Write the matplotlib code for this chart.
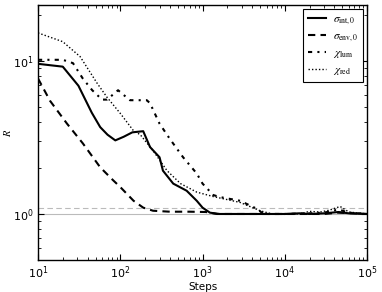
import matplotlib
matplotlib.use("Agg")
import matplotlib.pyplot as plt
import numpy as np

plt.rcParams['mathtext.fontset'] = 'stix'
plt.rcParams['font.family'] = ['DejaVu Sans']

# data (steps, R)
x_int = [10, 20, 31, 45, 57, 70, 87, 110, 140, 190, 230, 300, 330, 440, 640, 850, 1000, 1230, 1600, 3000, 6000, 10000, 15000, 20000, 30000, 45000, 60000, 100000]
y_int = [9.6, 9.2, 6.9, 4.6, 3.7, 3.3, 3.03, 3.2, 3.42, 3.48, 2.74, 2.35, 1.92, 1.58, 1.42, 1.22, 1.1, 1.02, 1.0, 1.0, 1.0, 1.0, 1.01, 1.0, 1.01, 1.03, 1.01, 1.0]

x_env = [10, 14, 22.5, 35, 57, 82, 100, 145, 190, 250, 400, 700, 1100, 1500, 3000, 10000, 30000, 45000, 100000]
y_env = [7.7, 5.5, 3.9, 2.9, 2.02, 1.66, 1.5, 1.22, 1.1, 1.05, 1.035, 1.035, 1.03, 1.0, 1.0, 1.0, 1.0, 1.02, 1.0]

x_lum = [10, 20, 26.6, 35, 45.6, 60, 69, 94, 131, 210, 230, 300, 400, 580, 850, 1000, 1350, 1630, 2860, 4600, 5500, 10000, 20000, 30000, 45000, 60000, 100000]
y_lum = [10.2, 10.2, 9.7, 7.7, 6.45, 5.6, 5.6, 6.45, 5.55, 5.55, 5.3, 3.9, 3.1, 2.35, 1.84, 1.58, 1.33, 1.29, 1.22, 1.08, 1.0, 1.0, 1.01, 1.02, 1.07, 1.02, 1.0]

x_red = [10, 20, 32.5, 52, 69, 100, 145, 175, 250, 370, 540, 850, 1350, 2860, 5000, 7000, 10000, 15000, 20000, 27000, 35000, 47000, 60000, 100000]
y_red = [15.3, 13.4, 10.7, 7.2, 5.8, 4.55, 3.5, 3.3, 2.6, 1.92, 1.58, 1.39, 1.3, 1.19, 1.05, 1.0, 1.0, 1.0, 1.04, 1.03, 1.06, 1.12, 1.03, 1.0]

labels = [r'$\sigma_{\rm int,0}$', r'$\sigma_{\rm env,0}$', r'$\chi_{\rm lum}$', r'$\chi_{\rm red}$']

fig = plt.figure(figsize=(3.82, 2.92), dpi=100)
ax = fig.add_axes([0.0995, 0.1096, 0.8615, 0.8734])

ax.axhline(1.0, color='#bbbbbb', lw=0.8, zorder=1)
ax.axhline(1.1, color='#bbbbbb', lw=0.8, ls=(0, (5, 3)), zorder=1)

ax.plot(x_int, y_int, color='black', lw=1.5, ls='-', label=labels[0])
ax.plot(x_env, y_env, color='black', lw=1.5, ls=(0, (3.5, 2.5)), label=labels[1])
ax.plot(x_lum, y_lum, color='black', lw=1.5, ls=(0, (2, 2.5, 1, 2.5)), label=labels[2])
ax.plot(x_red, y_red, color='black', lw=1.0, ls=(0, (1, 1.5)), label=labels[3])

ax.set_xscale('log')
ax.set_yscale('log')
ax.set_xlim(10, 1e5)
ax.set_ylim(0.5, 23.3)

ax.tick_params(which='both', direction='in', top=True, right=True, labelsize=8, pad=3)
ax.tick_params(which='major', length=4)
ax.tick_params(which='minor', length=2)
for s in ax.spines.values():
    s.set_linewidth(1.0)

ax.set_xlabel('Steps', fontsize=7.5)
ax.xaxis.set_label_coords(0.5, -0.088)
ax.set_ylabel(r'$R$', fontsize=7.5)
ax.yaxis.set_label_coords(-0.075, 0.5)

leg = ax.legend(loc='upper right', fontsize=8, fancybox=False, edgecolor='black',
                framealpha=1, handlelength=1.6, handletextpad=0.6, borderpad=0.45,
                labelspacing=0.4, borderaxespad=0.35)
leg.get_frame().set_linewidth(0.8)

fig.savefig('out.png', dpi=100)
